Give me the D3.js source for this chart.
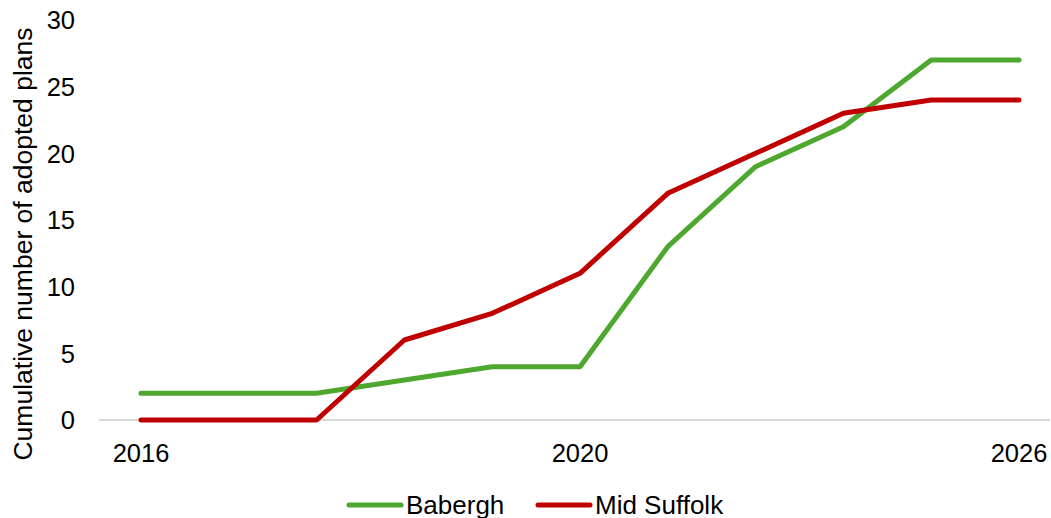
<!DOCTYPE html>
<html>
<head>
<meta charset="utf-8">
<script src="https://cdn.jsdelivr.net/npm/d3@7"></script>
<style>
  body { margin: 0; background: #fff; }
  svg { display: block; font-family: "Liberation Sans", Arial, sans-serif; }
</style>
</head>
<body>
<svg id="chart" width="1051" height="518"></svg>
<script>
// periods on the category axis, only some of them carry a label
const periods = [0, 1, 2, 3, 4, 5, 6, 7, 8, 9, 10];
const periodLabels = ["2016", "", "", "", "", "2020", "", "", "", "", "2026"];
const yTicks = [0, 5, 10, 15, 20, 25, 30];

const babergh    = [2, 2, 2, 3, 4, 4, 13, 19, 22, 27, 27];
const midSuffolk = [0, 0, 0, 6, 8, 11, 17, 20, 23, 24, 24];

const series = [
  { name: "Babergh",     values: babergh,    color: "#4ea72e" },
  { name: "Mid Suffolk", values: midSuffolk, color: "#c00000" },
];

const svg = d3.select("#chart");
const M = { l: 99, r: 1050, t: 20, b: 420 };

const x = d3.scalePoint().domain(periods).range([141, 1019]);
const y = d3.scaleLinear().domain([0, 30]).range([M.b, M.t]);

// x axis line
svg.append("line")
  .attr("x1", M.l).attr("x2", M.r)
  .attr("y1", y(0)).attr("y2", y(0))
  .attr("stroke", "#d9d9d9").attr("stroke-width", 2);

// y tick labels
svg.append("g").selectAll("text").data(yTicks).join("text")
  .attr("x", 75).attr("y", d => y(d))
  .attr("dy", "0.36em")
  .attr("text-anchor", "end")
  .attr("font-size", "25.5px").attr("fill", "#000")
  .text(d => d);

// x labels
svg.append("g").selectAll("text").data(periods).join("text")
  .attr("x", d => x(d)).attr("y", 462)
  .attr("text-anchor", "middle")
  .attr("font-size", "25.5px").attr("fill", "#000")
  .text((d, i) => periodLabels[i]);

// y title
svg.append("text")
  .attr("transform", `translate(32,${244}) rotate(-90)`)
  .attr("text-anchor", "middle")
  .attr("font-size", "26.5px").attr("fill", "#000")
  .text("Cumulative number of adopted plans");

const line = d3.line().x((d, i) => x(periods[i])).y(d => y(d));

svg.append("g").selectAll("path").data(series).join("path")
  .attr("d", d => line(d.values))
  .attr("fill", "none")
  .attr("stroke", d => d.color)
  .attr("stroke-width", 5)
  .attr("stroke-linejoin", "round")
  .attr("stroke-linecap", "round");

// legend
const lg = svg.append("g");
const legendX = [347, 536];
series.forEach((s, i) => {
  const g = lg.append("g").attr("transform", `translate(${legendX[i]},505)`);
  g.append("line").attr("x1", 2).attr("x2", 54)
    .attr("stroke", s.color).attr("stroke-width", 5).attr("stroke-linecap", "round");
  g.append("text").attr("x", 59).attr("y", 0).attr("dy", "0.36em")
    .attr("font-size", "26px").attr("fill", "#000").text(s.name);
});
</script>
</body>
</html>
